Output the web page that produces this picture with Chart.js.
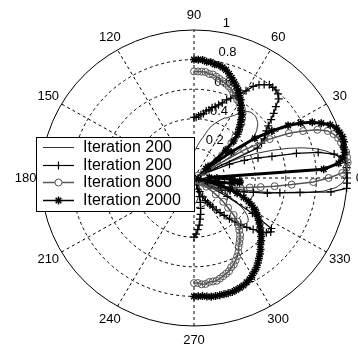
<!DOCTYPE html>
<html>
<head>
<meta charset="utf-8">
<script src="https://cdn.jsdelivr.net/npm/chart.js@4.4.1/dist/chart.umd.min.js"></script>
<style>
html, body { margin: 0; padding: 0; background: #fff; }
#wrap { width: 358px; height: 349px; }
</style>
</head>
<body>
<div id="wrap"><canvas id="polar"></canvas></div>
<script>
// angles in degrees, -90 .. 90
const theta = [-90,-88,-86,-84,-82,-80,-78,-76,-74,-72,-70,-68,-66,-64,-62,-60,-58,-56,-54,-52,
  -50,-48,-46,-44,-42,-40,-38,-36,-34,-32,-30,-28,-26,-24,-22,-20,-18,-16,-14,-12,
  -10,-8,-6,-4,-2,0,2,4,6,8,10,12,14,16,18,20,22,24,26,28,
  30,32,34,36,38,40,42,44,46,48,50,52,54,56,58,60,62,64,66,68,
  70,72,74,76,78,80,82,84,86,88,90];

// normalised pattern values
const rIter200 = [.17,.17,.17,.16,.15,.14,.13,.12,.12,.12,.13,.14,.15,.17,.19,.21,.24,.27,.30,.34,
  .37,.40,.43,.45,.46,.46,.45,.43,.40,.36,.31,.25,.18,.10,.02,.06,.15,.24,.34,.45,
  .58,.72,.85,.93,.97,.99,1.0,1.0,.99,.97,.93,.88,.82,.74,.65,.55,.45,.35,.20,.02,
  .20,.33,.43,.49,.52,.54,.56,.57,.58,.58,.58,.57,.55,.53,.50,.48,.46,.45,.43,.41,
  .39,.37,.34,.31,.28,.26,.24,.22,.20,.19,.17];

const rIter200b = [.40,.38,.35,.32,.28,.25,.21,.17,.13,.08,.05,.10,.14,.17,.19,.21,.23,.26,.29,.32,
  .36,.40,.44,.48,.52,.56,.60,.62,.61,.45,.25,.06,.12,.20,.22,.25,.29,.34,.40,.49,
  .57,.70,.90,1.0,1.0,1.0,1.0,1.0,1.0,.98,.93,.83,.69,.53,.44,.35,.25,.05,.46,.50,
  .53,.55,.57,.60,.64,.68,.72,.77,.79,.80,.80,.80,.78,.76,.73,.68,.65,.62,.59,.57,
  .54,.52,.50,.49,.47,.46,.44,.43,.42,.41,.41];

const rIter800 = [.71,.71,.72,.72,.71,.71,.71,.70,.69,.68,.67,.65,.64,.62,.60,.58,.55,.53,.51,.49,
  .46,.44,.41,.36,.30,.25,.18,.10,.03,.04,.06,.08,.10,.12,.14,.16,.19,.22,.26,.31,
  .37,.44,.53,.64,.78,.88,.97,1.0,1.01,1.01,1.01,1.0,.99,.98,.96,.93,.87,.78,.69,.56,
  .38,.03,.08,.14,.19,.24,.29,.34,.39,.44,.48,.51,.54,.56,.57,.59,.60,.62,.63,.65,
  .66,.67,.68,.69,.70,.71,.71,.72,.72,.72,.72];

const rIter2000 = [.80,.80,.80,.805,.81,.81,.81,.81,.81,.81,.805,.80,.795,.785,.775,.76,.745,.73,.71,.69,
  .67,.65,.625,.61,.59,.57,.55,.53,.51,.49,.47,.45,.42,.39,.35,.30,.25,.18,.09,.03,
  .15,.25,.30,.30,.25,.15,.10,.85,.95,.98,1.0,1.0,1.01,1.01,1.0,.99,.96,.91,.86,.79,
  .71,.60,.48,.30,.10,.12,.28,.36,.41,.44,.47,.50,.53,.55,.58,.61,.63,.66,.68,.70,
  .72,.74,.76,.77,.78,.78,.79,.79,.80,.80,.80];

const seriesNames = ['Iteration 200', 'Iteration 200', 'Iteration 800', 'Iteration 2000'];
const ringTicks = [0.2, 0.4, 0.6, 0.8, 1];
const angleTicks = [0, 30, 60, 90, 120, 150, 180, 210, 240, 270, 300, 330];

const deg = Math.PI / 180;
function toXY(r) {
  return theta.map((t, i) => ({ x: r[i] * Math.cos(t * deg), y: r[i] * Math.sin(t * deg) }));
}

const FONT = '"Liberation Sans", Arial, sans-serif';

const polarGrid = {
  id: 'polarGrid',
  beforeDatasetsDraw(chart) {
    const ctx = chart.ctx;
    const xs = chart.scales.x, ys = chart.scales.y;
    const cx = xs.getPixelForValue(0), cy = ys.getPixelForValue(0);
    const rx = xs.getPixelForValue(1) - cx, ry = cy - ys.getPixelForValue(1);
    ctx.save();
    ctx.strokeStyle = '#000';
    ctx.lineWidth = 1;
    // spokes
    ctx.setLineDash([3, 3]);
    for (let a = 0; a < 180; a += 30) {
      ctx.beginPath();
      ctx.moveTo(cx - Math.cos(a * deg) * rx, cy + Math.sin(a * deg) * ry);
      ctx.lineTo(cx + Math.cos(a * deg) * rx, cy - Math.sin(a * deg) * ry);
      ctx.stroke();
    }
    // rings
    ringTicks.forEach(r => {
      ctx.setLineDash(r === 1 ? [] : [3, 3]);
      ctx.beginPath();
      ctx.ellipse(cx, cy, rx * r, ry * r, 0, 0, 2 * Math.PI);
      ctx.stroke();
    });
    ctx.setLineDash([]);
    ctx.fillStyle = '#000';
    // angle labels
    ctx.font = '13px ' + FONT;
    ctx.textAlign = 'center';
    ctx.textBaseline = 'middle';
    angleTicks.forEach(a => {
      const k = a === 0 ? 1.08 : 1.1;
      ctx.fillText(String(a), cx + k * Math.cos(a * deg) * rx, cy - 1.1 * Math.sin(a * deg) * ry);
    });
    // radius labels at 82 deg
    ctx.textAlign = 'left';
    ctx.textBaseline = 'bottom';
    ringTicks.forEach(r => {
      const rr = r + 0.01;
      ctx.fillText('  ' + r, cx + rr * Math.cos(82 * deg) * rx, cy - rr * Math.sin(82 * deg) * ry);
    });
    ctx.restore();
  },
  afterDraw(chart) {
    const ctx = chart.ctx;
    const rows = [147, 165, 182, 200];
    ctx.save();
    ctx.fillStyle = '#fff';
    ctx.fillRect(36, 137, 159, 75);
    ctx.strokeStyle = '#000';
    ctx.lineWidth = 1;
    ctx.strokeRect(36.5, 137.5, 158, 74);
    chart.data.datasets.forEach((ds, i) => {
      const y = rows[i] + 0.5;
      ctx.strokeStyle = ds.borderColor;
      ctx.lineWidth = Math.min(ds.borderWidth, 1.5);
      ctx.beginPath();
      ctx.moveTo(43, y);
      ctx.lineTo(74, y);
      ctx.stroke();
      if (ds.pointRadius > 0) {
        ctx.strokeStyle = ds.pointBorderColor || ds.borderColor;
        ctx.fillStyle = '#fff';
        ctx.lineWidth = ds.pointBorderWidth;
        Chart.helpers.drawPoint(ctx, { pointStyle: ds.pointStyle, radius: ds.pointRadius, rotation: 0, borderWidth: ds.pointBorderWidth }, 58.5, y);
      }
      ctx.fillStyle = '#000';
      ctx.font = '16px ' + FONT;
      ctx.textAlign = 'left';
      ctx.textBaseline = 'middle';
      ctx.fillText(ds.label, 83, y);
    });
    ctx.restore();
  }
};

new Chart(document.getElementById('polar'), {
  type: 'scatter',
  data: {
    datasets: [
      { label: seriesNames[0], data: toXY(rIter200), showLine: true, borderColor: '#000', borderWidth: 0.8,
        pointRadius: 0, order: 4, clip: false },
      { label: seriesNames[1], data: toXY(rIter200b), showLine: true, borderColor: '#000', borderWidth: 1.2,
        pointStyle: 'cross', pointRadius: 4, pointBorderColor: '#000', pointBorderWidth: 1.2, order: 3, clip: false },
      { label: seriesNames[2], data: toXY(rIter800), showLine: true, borderColor: '#555', borderWidth: 1.5,
        pointStyle: 'circle', pointRadius: 3.5, pointBorderColor: '#555', pointBackgroundColor: 'rgba(255,255,255,0)',
        pointBorderWidth: 1, order: 2, clip: false },
      { label: seriesNames[3], data: toXY(rIter2000), showLine: true, borderColor: '#000', borderWidth: 3,
        pointStyle: 'star', pointRadius: 4, pointBorderColor: '#000', pointBorderWidth: 1.5, order: 1, clip: false }
    ]
  },
  options: {
    responsive: true,
    maintainAspectRatio: false,
    animation: false,
    events: [],
    layout: { padding: { left: 41, right: 11, top: 30, bottom: 23 } },
    scales: {
      x: { type: 'linear', min: -1, max: 1, display: false },
      y: { type: 'linear', min: -1, max: 1, display: false }
    },
    plugins: { legend: { display: false }, tooltip: { enabled: false } }
  },
  plugins: [polarGrid]
});
</script>
</body>
</html>
